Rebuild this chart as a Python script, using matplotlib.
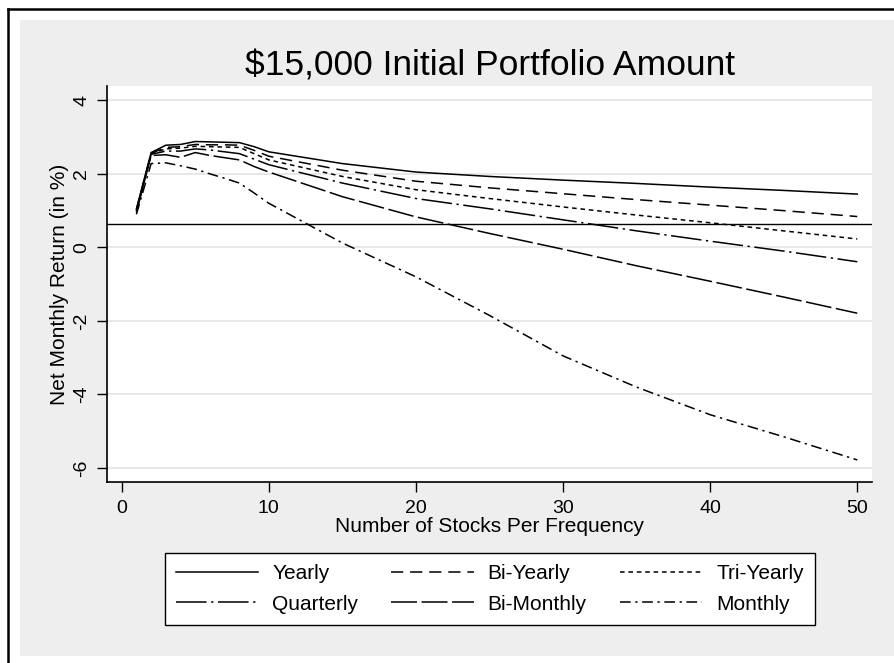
import numpy as np
import matplotlib.pyplot as plt
from matplotlib.patches import Rectangle
from matplotlib.lines import Line2D

plt.rcParams['font.family'] = ['Liberation Sans', 'DejaVu Sans']
plt.rcParams['axes.unicode_minus'] = False

# data
n_stocks = [1, 2, 3, 4, 5, 6, 7, 8, 9, 10, 15, 20, 25, 30, 35, 40, 45, 50]
yearly = [1.05, 2.58, 2.78, 2.80, 2.88, 2.87, 2.86, 2.85, 2.74, 2.60,
          2.28, 2.05, 1.93, 1.83, 1.74, 1.64, 1.55, 1.45]
bi_yearly = [1.02, 2.56, 2.72, 2.74, 2.80, 2.79, 2.79, 2.78, 2.64, 2.48,
             2.10, 1.80, 1.62, 1.46, 1.30, 1.15, 1.00, 0.84]
tri_yearly = [1.0, 2.55, 2.68, 2.70, 2.75, 2.74, 2.73, 2.72, 2.55, 2.38,
              1.93, 1.57, 1.33, 1.10, 0.88, 0.67, 0.45, 0.23]
quarterly = [0.98, 2.53, 2.62, 2.62, 2.68, 2.65, 2.60, 2.55, 2.40, 2.25,
             1.75, 1.33, 1.05, 0.75, 0.45, 0.17, -0.10, -0.39]
bi_monthly = [0.96, 2.50, 2.52, 2.45, 2.58, 2.50, 2.44, 2.38, 2.20, 2.05,
              1.38, 0.83, 0.38, -0.05, -0.50, -0.92, -1.35, -1.79]
monthly = [0.90, 2.28, 2.30, 2.22, 2.13, 2.00, 1.88, 1.75, 1.48, 1.20,
           0.12, -0.80, -1.85, -2.95, -3.80, -4.55, -5.15, -5.78]
benchmark = 0.64

series = [
    ('Yearly', yearly, '-'),
    ('Bi-Yearly', bi_yearly, (0, (8, 4.5))),
    ('Tri-Yearly', tri_yearly, (0, (3, 2.5))),
    ('Quarterly', quarterly, (0, (20, 3, 1.5, 3))),
    ('Bi-Monthly', bi_monthly, (0, (17, 3))),
    ('Monthly', monthly, (0, (7, 3, 1.5, 3))),
]

fig = plt.figure(figsize=(8.94, 6.63), dpi=100)
fig.patch.set_facecolor('white')

# page frame and grey graph region
W, H = 894.0, 663.0
fig.add_artist(Rectangle((20 / W, 1 - 656 / H), 1 - 20 / W, (656 - 20) / H,
                         transform=fig.transFigure, facecolor='#eeeeee',
                         edgecolor='none', zorder=0))
fig.add_artist(Line2D([8 / W, 8 / W], [0, 1 - 9 / H], transform=fig.transFigure,
                      color='black', lw=1.8))
fig.add_artist(Line2D([8 / W, 1], [1 - 9 / H, 1 - 9 / H], transform=fig.transFigure,
                      color='black', lw=1.8))

ax = fig.add_axes([107 / W, 1 - 482 / H, (872 - 107) / W, (482 - 86) / H])
ax.set_facecolor('white')

handles = {}
for name, vals, ls in series:
    handles[name], = ax.plot(n_stocks, vals, color='black', lw=1.1, linestyle=ls,
                             label=name, zorder=3)

ax.axhline(benchmark, color='black', lw=1.0, zorder=2)

ax.set_xlim(-1.0, 51.0)
ax.set_ylim(-6.38, 4.39)
ax.set_xticks([0, 10, 20, 30, 40, 50])
ax.set_yticks([-6, -4, -2, 0, 2, 4])
ax.grid(axis='y', color='#e4e4e4', lw=1.2)
ax.set_axisbelow(True)

for s in ['top', 'right']:
    ax.spines[s].set_visible(False)
for s in ['left', 'bottom']:
    ax.spines[s].set_linewidth(1.2)

ax.tick_params(axis='both', direction='out', length=7, width=1.0, labelsize=14)
ax.tick_params(axis='x', pad=6)
ax.tick_params(axis='y', pad=5)
for lab in ax.get_yticklabels():
    lab.set_rotation(90)
    lab.set_va('center')

ax.set_xlabel('Number of Stocks Per Frequency', fontsize=15, labelpad=0)
ax.set_ylabel('Net Monthly Return (in %)', fontsize=15, labelpad=3)

fig.text(490 / W, 1 - 75 / H, '$15,000 Initial Portfolio Amount', fontsize=25.5,
         ha='center', va='baseline')

# legend fills by column, so order the entries to read row-wise
order = ['Yearly', 'Quarterly', 'Bi-Yearly', 'Bi-Monthly', 'Tri-Yearly', 'Monthly']
leg = fig.legend([handles[k] for k in order], order,
                 loc='upper center', bbox_to_anchor=(490 / W, 1 - 553 / H),
                 ncol=3, fontsize=15, frameon=True, fancybox=False,
                 edgecolor='black', framealpha=1, handlelength=3.95,
                 handletextpad=0.67, columnspacing=1.6, labelspacing=0.55,
                 borderpad=0.54, borderaxespad=0)
leg.get_frame().set_linewidth(1.0)

fig.savefig('out.png', dpi=100, facecolor=fig.get_facecolor())
